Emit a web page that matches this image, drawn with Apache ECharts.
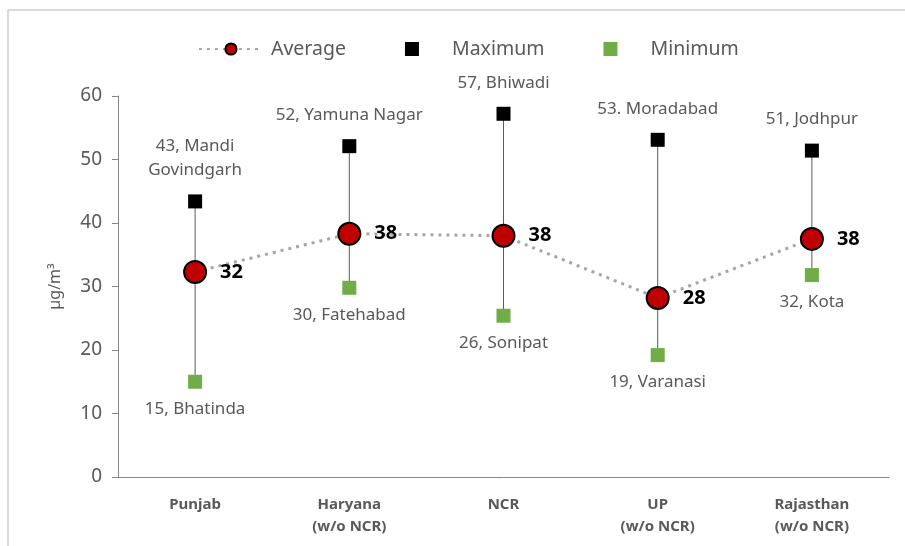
<!DOCTYPE html>
<html>
<head>
<meta charset="utf-8">
<script src="https://cdn.jsdelivr.net/npm/echarts@6/dist/echarts.min.js"></script>
<style>
  html, body { margin: 0; padding: 0; background: #fff; }
  #chart { width: 905px; height: 546px; }
</style>
</head>
<body>
<div id="chart"></div>
<script>
// states and the PM2.5 stats
const states = ['Punjab', 'Haryana\n(w/o NCR)', 'NCR', 'UP\n(w/o NCR)', 'Rajasthan\n(w/o NCR)'];
const avgValues = [32.3, 38.3, 38.0, 28.2, 37.5];
const maxValues = [43.4, 52.1, 57.2, 53.1, 51.4];
const minValues = [15.0, 29.8, 25.4, 19.2, 31.8];
const avgLabels = ['32', '38', '38', '28', '38'];
const maxLabels = ['43, Mandi\nGovindgarh', '52, Yamuna Nagar', '57, Bhiwadi', '53. Moradabad', '51, Jodhpur'];
const minLabels = ['15, Bhatinda', '30, Fatehabad', '26, Sonipat', '19, Varanasi', '32, Kota'];

const font = 'Noto Sans';
const grey = '#595959';
const square = 'path://M0,0H10V10H0Z';

const chart = echarts.init(document.getElementById('chart'));

const option = {
    animation: false,
    textStyle: { fontFamily: font },
    graphic: [
        { type: 'line', shape: { x1: 8, y1: 10, x2: 905, y2: 10 }, style: { stroke: '#d9d9d9', lineWidth: 2 } },
        { type: 'line', shape: { x1: 8, y1: 10, x2: 8, y2: 546 }, style: { stroke: '#d9d9d9', lineWidth: 2 } }
    ],
    legend: {
        top: 34,
        left: 193,
        itemGap: 59,
        itemWidth: 64,
        itemHeight: 14,
        textStyle: { color: grey, fontSize: 19.5, fontFamily: font, padding: [0, 0, 0, 3] },
        data: [
            { name: 'Average' },
            { name: 'Maximum', icon: square },
            { name: 'Minimum', icon: square }
        ]
    },
    grid: { left: 118, right: 16, top: 96, bottom: 69 },
    xAxis: {
        type: 'category',
        data: states,
        axisLine: { lineStyle: { color: '#868686' } },
        axisTick: { show: false },
        axisLabel: { color: grey, fontWeight: 'bold', fontSize: 15, lineHeight: 22, margin: 17, interval: 0 }
    },
    yAxis: {
        type: 'value',
        min: 0,
        max: 60,
        interval: 10,
        name: 'µg/m³',
        nameLocation: 'middle',
        nameGap: 55,
        nameTextStyle: { color: grey, fontSize: 16 },
        axisLine: { show: true, lineStyle: { color: '#868686' } },
        axisTick: { show: true, inside: false, length: 6, lineStyle: { color: '#868686' } },
        axisLabel: { color: grey, fontSize: 19, margin: 16 },
        splitLine: { show: false }
    },
    series: [
        {
            // whiskers from min to max
            type: 'custom',
            silent: true,
            z: 1,
            data: states.map((s, i) => [i, minValues[i], maxValues[i]]),
            renderItem: function (params, api) {
                const lo = api.coord([api.value(0), api.value(1)]);
                const hi = api.coord([api.value(0), api.value(2)]);
                return {
                    type: 'line',
                    shape: { x1: lo[0], y1: lo[1], x2: hi[0], y2: hi[1] },
                    style: { stroke: '#595959', lineWidth: 1 }
                };
            }
        },
        {
            name: 'Maximum',
            type: 'scatter',
            symbol: 'rect',
            symbolSize: 14,
            z: 3,
            itemStyle: { color: '#000', opacity: 1 },
            data: maxValues,
            label: {
                show: true,
                position: 'top',
                distance: 12,
                color: grey,
                fontSize: 17,
                lineHeight: 24,
                formatter: p => maxLabels[p.dataIndex]
            }
        },
        {
            name: 'Minimum',
            type: 'scatter',
            symbol: 'rect',
            symbolSize: 14,
            z: 3,
            itemStyle: { color: '#70ad47', opacity: 1 },
            data: minValues,
            label: {
                show: true,
                position: 'bottom',
                distance: 12,
                color: grey,
                fontSize: 17,
                formatter: p => minLabels[p.dataIndex]
            }
        },
        {
            name: 'Average',
            type: 'line',
            z: 4,
            symbol: 'circle',
            symbolSize: 22,
            lineStyle: { color: '#a6a6a6', width: 3, type: [3, 5] },
            itemStyle: { color: '#c00000', borderColor: '#000', borderWidth: 2 },
            data: avgValues,
            label: {
                show: true,
                position: 'right',
                distance: 13,
                color: '#000',
                fontWeight: 'bold',
                fontSize: 20,
                formatter: p => avgLabels[p.dataIndex]
            }
        }
    ]
};

chart.setOption(option);
</script>
</body>
</html>
